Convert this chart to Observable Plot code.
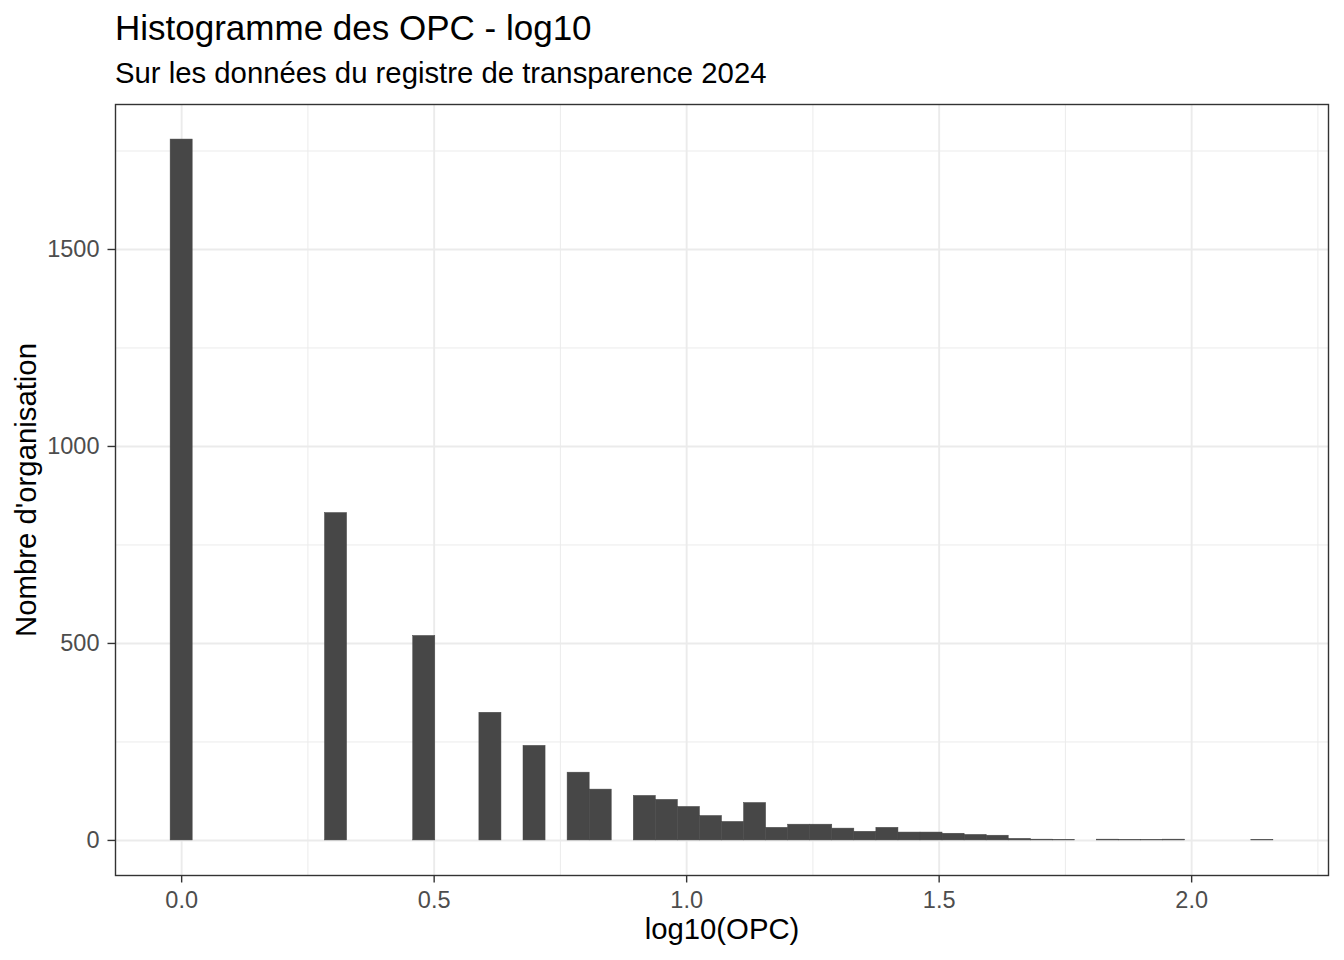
<!DOCTYPE html>
<html>
<head>
<meta charset="utf-8">
<script src="https://cdn.jsdelivr.net/npm/d3@7"></script>
<script src="https://cdn.jsdelivr.net/npm/@observablehq/plot@0.6"></script>
<style>
  html, body { margin: 0; padding: 0; background: #ffffff; }
  #wrap { position: relative; width: 1344px; height: 960px; font-family: "Liberation Sans", Arial, Helvetica, sans-serif; }
  .title { position: absolute; left: 115px; top: 10px; font-size: 35px; line-height: 1; color: #000; white-space: nowrap; }
  .subtitle { position: absolute; left: 115px; top: 58px; font-size: 29.3px; line-height: 1; color: #000; white-space: nowrap; }
  #chart { position: absolute; left: 0; top: 0; }
</style>
</head>
<body>
<div id="wrap">
  <div id="chart"></div>
  <div class="title">Histogramme des OPC - log10</div>
  <div class="subtitle">Sur les données du registre de transparence 2024</div>
</div>
<script>
// Histogram of log10(OPC): 50 bins centred on k * binWidth (k = 0..49)
const binWidth = 2.14 / 49;
const counts = [
  1779, 0, 0, 0, 0, 0, 0, 831, 0, 0,
  0, 519, 0, 0, 324, 0, 240, 0, 172, 129,
  0, 113, 103, 85, 62, 47, 95, 32, 40, 40,
  30, 22, 32, 20, 20, 17, 14, 12, 4, 2,
  1, 0, 2, 1, 1, 2, 0, 0, 0, 1
];
const xTicks = [0, 0.5, 1.0, 1.5, 2.0];
const xMinor = [0.25, 0.75, 1.25, 1.75, 2.25];
const yTicks = [0, 500, 1000, 1500];
const yMinor = [250, 750, 1250, 1750];
const xLabel = "log10(OPC)";
const yLabel = "Nombre d'organisation";

const bins = counts.map((c, k) => ({
  x1: k * binWidth - binWidth / 2,
  x2: k * binWidth + binWidth / 2,
  count: c
})).filter(d => d.count > 0);

const font = "'Liberation Sans', Arial, Helvetica, sans-serif";

const chart = Plot.plot({
  width: 1344,
  height: 960,
  marginLeft: 115,
  marginRight: 16,
  marginTop: 104,
  marginBottom: 85,
  style: { fontFamily: font, background: "#ffffff" },
  x: { domain: [-0.131, 2.271] },
  y: { domain: [-89, 1868] },
  marks: [
    Plot.gridX(xMinor, { stroke: "#EBEBEB", strokeOpacity: 1, strokeWidth: 1 }),
    Plot.gridY(yMinor, { stroke: "#EBEBEB", strokeOpacity: 1, strokeWidth: 1 }),
    Plot.gridX(xTicks, { stroke: "#EBEBEB", strokeOpacity: 1, strokeWidth: 1.9 }),
    Plot.gridY(yTicks, { stroke: "#EBEBEB", strokeOpacity: 1, strokeWidth: 1.9 }),
    Plot.rectY(bins, { x1: "x1", x2: "x2", y1: 0, y2: "count", fill: "#474747", stroke: "#474747", strokeWidth: 0.5 }),
    Plot.frame({ stroke: "#333333", strokeWidth: 1.4 }),
    Plot.axisX({
      ticks: xTicks, tickFormat: d3.format(".1f"), tickSize: 7.5, tickPadding: 8,
      fontSize: 23.5, stroke: "#333333", strokeWidth: 1.4, fill: "#4D4D4D", label: null
    }),
    Plot.axisY({
      ticks: yTicks, tickFormat: d => String(d), tickSize: 7.5, tickPadding: 8.5,
      fontSize: 23.5, stroke: "#333333", strokeWidth: 1.4, fill: "#4D4D4D", label: null
    }),
    Plot.text([xLabel], { frameAnchor: "bottom", lineAnchor: "middle", textAnchor: "middle", dy: 54.6, fontSize: 29.3, fill: "#000" }),
    Plot.text([yLabel], { frameAnchor: "left", lineAnchor: "middle", textAnchor: "middle", dx: -89, rotate: -90, fontSize: 29.3, fill: "#000" })
  ]
});
document.getElementById("chart").appendChild(chart);
</script>
</body>
</html>
